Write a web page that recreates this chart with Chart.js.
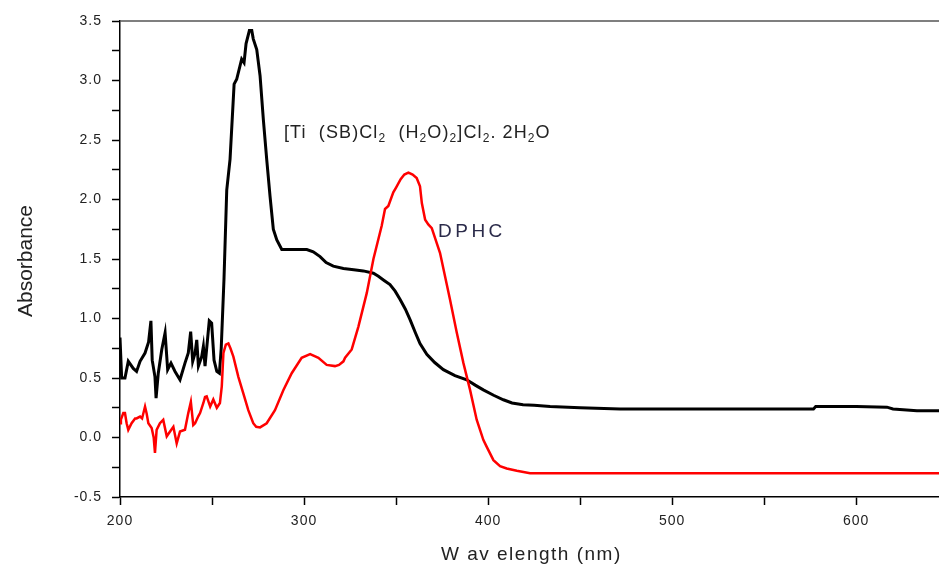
<!DOCTYPE html>
<html>
<head>
<meta charset="utf-8">
<script src="https://cdn.jsdelivr.net/npm/chart.js@4.4.1/dist/chart.umd.min.js"></script>
<style>
  html, body { margin: 0; padding: 0; background: #fff; }
  #chartAbs { display: block; }
</style>
</head>
<body>
<canvas id="chartAbs" width="939" height="568"></canvas>
<script>
// complejo de Ti (curva negra)
const complexWl = [200, 200.9, 202.7, 204.5, 207.2, 209, 210.9, 213.6, 215.5, 216.8, 217.5, 219, 219.6, 220.8, 222.7,
  224.5, 225.9, 227.7, 229.9, 232.6, 235.3, 237.1, 238.4, 239.5, 240.8, 241.7, 242.6, 244.4, 245.3, 246.2, 248.5,
  249.8, 251.1, 252.6, 254, 255, 256.5, 258, 259.8, 262, 263.4, 266.1, 267.4, 268.5, 270.3, 271.6, 272.4, 274.3,
  276.1, 277.9, 279.7, 281.5, 283.3, 285.2, 287.9, 290.6, 296, 301.5, 305, 308.7, 312, 315.9, 321.4, 327, 332.2,
  337.7, 340.4, 343.5, 346.7, 349.5, 352.2, 355, 357.6, 360.5, 363, 366.7, 371, 375.7, 382, 388.4, 393, 397.4,
  403, 408.3, 413, 419, 425, 433.7, 450, 471.7, 500, 540, 576.8, 578, 600, 616.7, 620, 633, 645];
const complexAbs = [0.84, 0.5, 0.5, 0.64, 0.58, 0.555, 0.64, 0.71, 0.8, 0.98, 0.65, 0.51, 0.33, 0.54, 0.74,
  0.88, 0.57, 0.625, 0.555, 0.485, 0.625, 0.71, 0.89, 0.64, 0.71, 0.82, 0.6, 0.68, 0.765, 0.6, 0.98,
  0.96, 0.65, 0.555, 0.54, 0.75, 1.33, 2.08, 2.34, 2.97, 3.01, 3.18, 3.15, 3.31, 3.42, 3.42, 3.35, 3.26,
  3.04, 2.67, 2.34, 2.03, 1.75, 1.66, 1.58, 1.58, 1.58, 1.58, 1.56, 1.52, 1.47, 1.44, 1.42, 1.41, 1.4,
  1.38, 1.355, 1.32, 1.285, 1.23, 1.16, 1.08, 0.99, 0.88, 0.79, 0.7, 0.63, 0.57, 0.52, 0.485, 0.44, 0.4,
  0.355, 0.317, 0.29, 0.275, 0.27, 0.26, 0.25, 0.24, 0.24, 0.24, 0.24, 0.26, 0.26, 0.255, 0.24, 0.225, 0.225];

// DPHC (curva roja)
const dphcWl = [200, 200.5, 201.8, 202.7, 203.6, 204.5, 206.3, 208.2, 209, 210.9, 212, 213.6, 214.5, 215.4, 217.2,
  218.3, 219, 219.9, 221.7, 223.5, 225.4, 227.2, 229, 230.8, 232.6, 235.3, 237.1, 238.5, 239.8, 240.8, 242.6,
  243.5, 245.3, 246.2, 247.1, 249, 250.7, 252.6, 254.3, 255.3, 256.2, 257.5, 258.9, 260, 261.6, 264.3, 267,
  269.7, 272.4, 274, 276.1, 279.7, 284.2, 288.8, 293.3, 298.7, 303.3, 307.8, 312.3, 316.8, 319, 321.4, 322.3,
  325.9, 329.5, 334.1, 337.7, 342.2, 344, 345.8, 348.5, 350, 352.5, 354.5, 356.7, 359, 361.2, 363, 364, 365.8,
  367.5, 369.4, 373.9, 379.3, 383, 386.6, 390.2, 393.8, 397.4, 399.2, 402.9, 406.5, 410.1, 415.6, 422.8, 645];
const dphcAbs = [0.12, 0.15, 0.205, 0.205, 0.12, 0.064, 0.12, 0.16, 0.16, 0.176, 0.16, 0.26, 0.2, 0.12, 0.08,
  0.0, -0.13, 0.064, 0.12, 0.148, 0.01, 0.05, 0.09, -0.05, 0.05, 0.065, 0.205, 0.3, 0.105, 0.12, 0.18,
  0.205, 0.29, 0.34, 0.345, 0.26, 0.32, 0.25, 0.29, 0.43, 0.71, 0.78, 0.79, 0.75, 0.68, 0.51, 0.37,
  0.23, 0.12, 0.09, 0.085, 0.12, 0.23, 0.4, 0.54, 0.67, 0.7, 0.67, 0.61, 0.6, 0.61, 0.64, 0.67,
  0.74, 0.93, 1.215, 1.5, 1.78, 1.92, 1.945, 2.06, 2.1, 2.17, 2.21, 2.226, 2.21, 2.18, 2.11, 1.97, 1.83,
  1.79, 1.76, 1.55, 1.16, 0.88, 0.625, 0.4, 0.15, -0.02, -0.077, -0.19, -0.24, -0.26, -0.28, -0.3, -0.3];

const xTitle = "W av elength (nm)";
const yTitle = "Absorbance";
const dphcLabel = "DPHC";
// etiqueta del complejo: [texto, es subíndice]
const complexLabel = [["[Ti  (SB)Cl", false], ["2", true], ["  (H", false], ["2", true], ["O)", false], ["2", true],
  ["]Cl", false], ["2", true], [". 2H", false], ["2", true], ["O", false]];

function toPoints(xs, ys) {
    return xs.map((x, i) => ({ x: x, y: ys[i] }));
}

// textos, títulos y marco superior
const textosPlugin = {
    id: "textos",
    beforeDraw(chart) {
        chart.ctx.letterSpacing = "1px";
    },
    afterDraw(chart) {
        const ctx = chart.ctx;
        const area = chart.chartArea;
        ctx.save();

        // línea superior del marco
        ctx.strokeStyle = "#555";
        ctx.lineWidth = 1.5;
        ctx.beginPath();
        ctx.moveTo(area.left, area.top);
        ctx.lineTo(area.right, area.top);
        ctx.stroke();

        ctx.fillStyle = "#222";
        ctx.textBaseline = "alphabetic";

        // título eje y
        ctx.save();
        ctx.font = "21px 'Liberation Sans', Arial, sans-serif";
        ctx.letterSpacing = "0px";
        ctx.translate(32, (area.top + area.bottom) / 2 + 2);
        ctx.rotate(-Math.PI / 2);
        ctx.textAlign = "center";
        ctx.fillText(yTitle, 0, 0);
        ctx.restore();

        // título eje x
        ctx.font = "19px 'Liberation Sans', Arial, sans-serif";
        ctx.letterSpacing = "1.5px";
        ctx.textAlign = "left";
        ctx.fillText(xTitle, 441, 560);

        // etiqueta DPHC
        ctx.fillStyle = "#2b2b4a";
        ctx.font = "19px 'Liberation Sans', Arial, sans-serif";
        ctx.letterSpacing = "3.5px";
        ctx.fillText(dphcLabel, 438, 237);

        // etiqueta del complejo con subíndices
        ctx.fillStyle = "#222";
        let x = 284;
        complexLabel.forEach(([txt, sub]) => {
            ctx.font = (sub ? "12px" : "18px") + " 'Liberation Sans', Arial, sans-serif";
            ctx.letterSpacing = "1.1px";
            ctx.fillText(txt, x, sub ? 142 : 138);
            x += ctx.measureText(txt).width;
        });

        ctx.restore();
        ctx.letterSpacing = "0px";
    }
};

const ctxAbs = document.getElementById("chartAbs").getContext("2d");
const chartAbs = new Chart(ctxAbs, {
    type: "line",
    data: {
        datasets: [{
            label: "DPHC",
            data: toPoints(dphcWl, dphcAbs),
            borderColor: "#ff0000",
            borderWidth: 2.5,
            pointRadius: 0,
            tension: 0,
            fill: false
        }, {
            label: "Complejo",
            data: toPoints(complexWl, complexAbs),
            borderColor: "#000000",
            borderWidth: 3,
            pointRadius: 0,
            tension: 0,
            fill: false
        }]
    },
    options: {
        responsive: false,
        animation: false,
        devicePixelRatio: 1,
        layout: { padding: { top: 21, right: 0, bottom: 0, left: 0 } },
        plugins: {
            legend: { display: false },
            tooltip: { enabled: false }
        },
        scales: {
            x: {
                type: "linear",
                min: 200,
                max: 645,
                afterFit: s => { s.height = 71; },
                border: { display: true, color: "#000", width: 1.5 },
                grid: { drawOnChartArea: false, drawTicks: true, tickLength: 8, color: "#000", tickWidth: 1.5 },
                ticks: {
                    stepSize: 50,
                    includeBounds: false,
                    autoSkip: false,
                    maxRotation: 0,
                    padding: 8,
                    color: "#222",
                    font: { family: "'Liberation Sans', Arial, sans-serif", size: 14 },
                    callback: v => (v % 100 === 0 ? String(v) : "")
                }
            },
            y: {
                min: -0.5,
                max: 3.5,
                afterFit: s => { s.width = 120; },
                border: { display: true, color: "#000", width: 1.5 },
                grid: { drawOnChartArea: false, drawTicks: true, tickLength: 8, color: "#000", tickWidth: 1.5 },
                ticks: {
                    stepSize: 0.25,
                    includeBounds: false,
                    autoSkip: false,
                    padding: 10,
                    color: "#222",
                    font: { family: "'Liberation Sans', Arial, sans-serif", size: 14 },
                    callback: v => (Math.abs(v * 2 - Math.round(v * 2)) < 1e-9 ? v.toFixed(1) : "")
                }
            }
        }
    },
    plugins: [textosPlugin]
});
</script>
</body>
</html>
